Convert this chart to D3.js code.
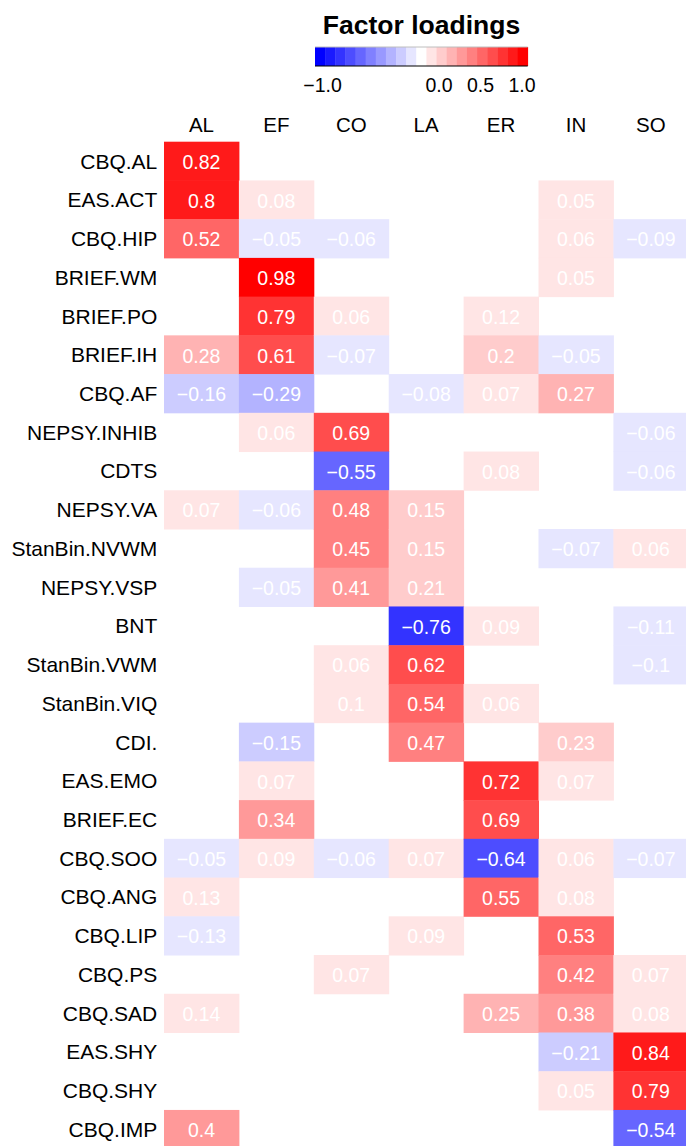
<!DOCTYPE html>
<html>
<head>
<meta charset="utf-8">
<script src="https://cdn.jsdelivr.net/npm/d3@7"></script>
<style>
  html, body { margin: 0; padding: 0; background: #fff; }
  svg { display: block; font-family: "Liberation Sans", Arial, Helvetica, sans-serif; }
</style>
</head>
<body>
<svg id="chart" width="686" height="1146"></svg>
<script>
// ---- data ----
const rowNames = ["CBQ.AL","EAS.ACT","CBQ.HIP","BRIEF.WM","BRIEF.PO","BRIEF.IH","CBQ.AF",
  "NEPSY.INHIB","CDTS","NEPSY.VA","StanBin.NVWM","NEPSY.VSP","BNT","StanBin.VWM",
  "StanBin.VIQ","CDI.","EAS.EMO","BRIEF.EC","CBQ.SOO","CBQ.ANG","CBQ.LIP","CBQ.PS",
  "CBQ.SAD","EAS.SHY","CBQ.SHY","CBQ.IMP"];
const factorNames = ["AL","EF","CO","LA","ER","IN","SO"];
const AL = [0.82,0.8,0.52,null,null,0.28,-0.16,null,null,0.07,null,null,null,null,null,null,null,null,-0.05,0.13,-0.13,null,0.14,null,null,0.4];
const EF = [null,0.08,-0.05,0.98,0.79,0.61,-0.29,0.06,null,-0.06,null,-0.05,null,null,null,-0.15,0.07,0.34,0.09,null,null,null,null,null,null,null];
const CO = [null,null,-0.06,null,0.06,-0.07,null,0.69,-0.55,0.48,0.45,0.41,null,0.06,0.1,null,null,null,-0.06,null,null,0.07,null,null,null,null];
const LA = [null,null,null,null,null,null,-0.08,null,null,0.15,0.15,0.21,-0.76,0.62,0.54,0.47,null,null,0.07,null,0.09,null,null,null,null,null];
const ER = [null,null,null,null,0.12,0.2,0.07,null,0.08,null,null,null,0.09,null,0.06,null,0.72,0.69,-0.64,0.55,null,null,0.25,null,null,null];
const IN = [null,0.05,0.06,0.05,null,-0.05,0.27,null,null,null,-0.07,null,null,null,null,0.23,0.07,null,0.06,0.08,0.53,0.42,0.38,-0.21,0.05,null];
const SO = [null,null,-0.09,null,null,null,null,-0.06,-0.06,null,0.06,null,-0.11,-0.1,null,null,null,null,-0.07,null,null,0.07,0.08,0.84,0.79,-0.54];
const loadings = [AL, EF, CO, LA, ER, IN, SO];
const legendTitle = "Factor loadings";
const legendTickValues = [-1, 0, 0.5, 1];
const legendTickLabels = ["\u22121.0", "0.0", "0.5", "1.0"];

// ---- scales ----
const svg = d3.select("#chart");
const nColors = 21;
const ramp = d3.piecewise(d3.interpolateRgb, ["#0000ff", "#ffffff", "#ff0000"]);
const palette = d3.range(nColors).map(i => ramp(i / (nColors - 1)));
const posBreaks = [0.045, 0.145, 0.24, 0.33, 0.415, 0.5, 0.6, 0.7, 0.8, 0.9];
const thresholds = posBreaks.map(d => -d).reverse().concat(posBreaks);
const color = d3.scaleThreshold().domain(thresholds).range(palette);

const x = d3.scaleBand().domain(factorNames).range([164, 688.3]);
const y = d3.scaleBand().domain(rowNames).range([141.7, 141.7 + 26 * 38.73]);

const cells = [];
factorNames.forEach((f, j) => {
  rowNames.forEach((r, i) => {
    const v = loadings[j][i];
    if (v !== null) cells.push({ f, r, v });
  });
});

const fmt = v => (v < 0 ? "\u2212" : "") + String(Math.abs(v));

// ---- cells ----
svg.append("g").selectAll("rect").data(cells).join("rect")
  .attr("x", d => x(d.f))
  .attr("y", d => y(d.r))
  .attr("width", x.bandwidth() + 0.5)
  .attr("height", y.bandwidth() + 0.5)
  .attr("fill", d => color(d.v));

svg.append("g").selectAll("text").data(cells).join("text")
  .attr("x", d => x(d.f) + x.bandwidth() / 2)
  .attr("y", d => y(d.r) + y.bandwidth() / 2)
  .attr("dy", "0.4em")
  .attr("text-anchor", "middle")
  .attr("font-size", 19.5)
  .attr("fill", "#ffffff")
  .text(d => fmt(d.v));

// ---- row labels ----
svg.append("g").selectAll("text").data(rowNames).join("text")
  .attr("x", 157.3)
  .attr("y", d => y(d) + y.bandwidth() / 2)
  .attr("dy", "0.36em")
  .attr("text-anchor", "end")
  .attr("font-size", 21)
  .attr("fill", "#000")
  .text(d => d);

// ---- column labels ----
svg.append("g").selectAll("text").data(factorNames).join("text")
  .attr("x", d => x(d) + x.bandwidth() / 2)
  .attr("y", 132)
  .attr("text-anchor", "middle")
  .attr("font-size", 20.5)
  .attr("fill", "#000")
  .text(d => d);

// ---- legend ----
const lx = d3.scaleBand().domain(d3.range(nColors)).range([315, 527.7]);
const lg = svg.append("g");
lg.selectAll("rect").data(palette).join("rect")
  .attr("x", (d, i) => lx(i))
  .attr("y", 47)
  .attr("width", lx.bandwidth() + 0.4)
  .attr("height", 19)
  .attr("fill", d => d);
lg.append("line").attr("x1", 315).attr("x2", 527.7).attr("y1", 47).attr("y2", 47)
  .attr("stroke", "#bebebe").attr("stroke-width", 1);
lg.append("line").attr("x1", 315).attr("x2", 527.7).attr("y1", 66).attr("y2", 66)
  .attr("stroke", "#000").attr("stroke-width", 1.2);

const tickPos = d3.scaleLinear().domain([-1, 0, 1]).range([322.5, 439, 522]);
lg.selectAll("text.tick").data(legendTickValues).join("text")
  .attr("class", "tick")
  .attr("x", d => tickPos(d))
  .attr("y", 91.5)
  .attr("text-anchor", "middle")
  .attr("font-size", 19.5)
  .attr("fill", "#000")
  .text((d, i) => legendTickLabels[i]);

svg.append("text")
  .attr("x", 421.5)
  .attr("y", 34)
  .attr("text-anchor", "middle")
  .attr("font-size", 26.5)
  .attr("font-weight", "bold")
  .attr("fill", "#000")
  .text(legendTitle);
</script>
</body>
</html>
